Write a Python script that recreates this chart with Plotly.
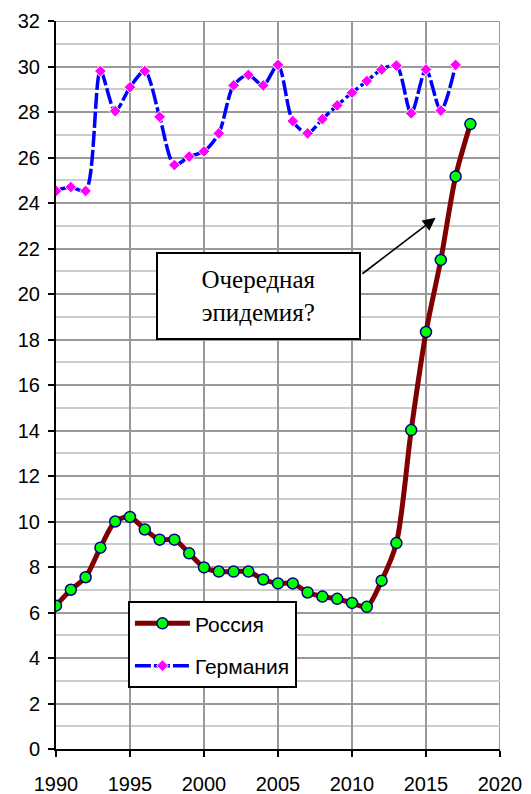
import plotly.graph_objects as go

years_ru = list(range(1990, 2019))
russia = [6.3, 7.0, 7.55, 8.85, 10.0, 10.2, 9.65, 9.2, 9.2, 8.6,
          7.98, 7.8, 7.8, 7.8, 7.45, 7.28, 7.28, 6.88, 6.7, 6.6,
          6.42, 6.25, 7.4, 9.05, 14.02, 18.33, 21.5, 25.17, 27.47]

years_de = list(range(1990, 2018))
germany = [24.53, 24.7, 24.53, 29.8, 28.04, 29.09, 29.8, 27.79, 25.67, 26.04,
           26.27, 27.06, 29.17, 29.63, 29.17, 30.07, 27.6, 27.06, 27.69, 28.29,
           28.85, 29.36, 29.87, 30.04, 27.94, 29.87, 28.06, 30.07]

x_ticks = [1990, 1995, 2000, 2005, 2010, 2015, 2020]
y_ticks = list(range(0, 33, 2))

FONT = "Arial, Liberation Sans, sans-serif"

fig = go.Figure()
fig.add_trace(go.Scatter(
    x=years_ru, y=russia, name="Россия", mode="lines+markers",
    line=dict(color="#800000", width=5, shape="spline", smoothing=0.8),
    marker=dict(symbol="circle", size=11, color="#00FF00",
                line=dict(color="#000080", width=1.5)),
    legendgroup="a",
))
fig.add_trace(go.Scatter(
    x=years_de, y=germany, name="Германия", mode="lines+markers",
    line=dict(color="#0000FF", width=3.5, shape="spline", smoothing=0.8,
              dash="16px,3px"),
    marker=dict(symbol="diamond", size=9, color="#FF00FF",
                line=dict(color="white", width=1)),
    legendgroup="b",
))

# box annotation
fig.add_annotation(
    x=2003.65, y=19.9, xref="x", yref="y",
    text="Очередная<br>эпидемия?", showarrow=False,
    font=dict(family="Times New Roman, Liberation Serif, serif", size=25, color="black"),
    bgcolor="white", bordercolor="black", borderwidth=2,
    width=199, height=82, borderpad=1, align="center",
)
# arrow
fig.add_annotation(
    x=2015.65, y=23.35, ax=2010.6, ay=20.84,
    xref="x", yref="y", axref="x", ayref="y",
    text="", showarrow=True, arrowhead=2, arrowsize=1.6,
    arrowwidth=1.6, arrowcolor="black", standoff=0,
)

# top / right borders in grid colour
fig.add_shape(type="line", xref="x", yref="y", x0=1990, x1=2020, y0=32, y1=32,
              line=dict(color="#999999", width=2), layer="below")
fig.add_shape(type="line", xref="x", yref="y", x0=2020, x1=2020, y0=0, y1=32,
              line=dict(color="#999999", width=2), layer="below")

fig.update_layout(
    width=531, height=794,
    margin=dict(l=56, r=31, t=21, b=45),
    paper_bgcolor="white", plot_bgcolor="white",
    font=dict(family=FONT, size=19, color="black"),
    showlegend=True,
    legend=dict(
        x=0.162, y=0.203, xanchor="left", yanchor="top",
        bgcolor="white", bordercolor="black", borderwidth=2,
        font=dict(family=FONT, size=21, color="black"),
        traceorder="grouped", tracegroupgap=12, itemwidth=55,
    ),
    xaxis=dict(
        range=[1990, 2020], tickvals=x_ticks, ticktext=[str(v) for v in x_ticks],
        showgrid=True, gridcolor="#999999", gridwidth=2,
        showline=True, linecolor="black", linewidth=2,
        ticks="outside", ticklen=6, tickcolor="black", tickwidth=2,
        tickfont=dict(size=20), zeroline=False, fixedrange=True,
        automargin=False, ticklabelstandoff=10,
    ),
    yaxis=dict(
        range=[0, 32], tickvals=y_ticks, ticktext=[str(v) for v in y_ticks],
        showgrid=True, gridcolor="#999999", gridwidth=2,
        minor=dict(dtick=1, showgrid=True, gridcolor="#cccccc", gridwidth=2),
        showline=True, linecolor="black", linewidth=2,
        ticks="outside", ticklen=6, tickcolor="black", tickwidth=2,
        tickfont=dict(size=20), zeroline=False, fixedrange=True,
        automargin=False, ticklabelstandoff=4,
    ),
)

fig.write_html(
    "out.html",
    config={"displayModeBar": False},
    post_script="document.body.style.margin='0px';",
)
